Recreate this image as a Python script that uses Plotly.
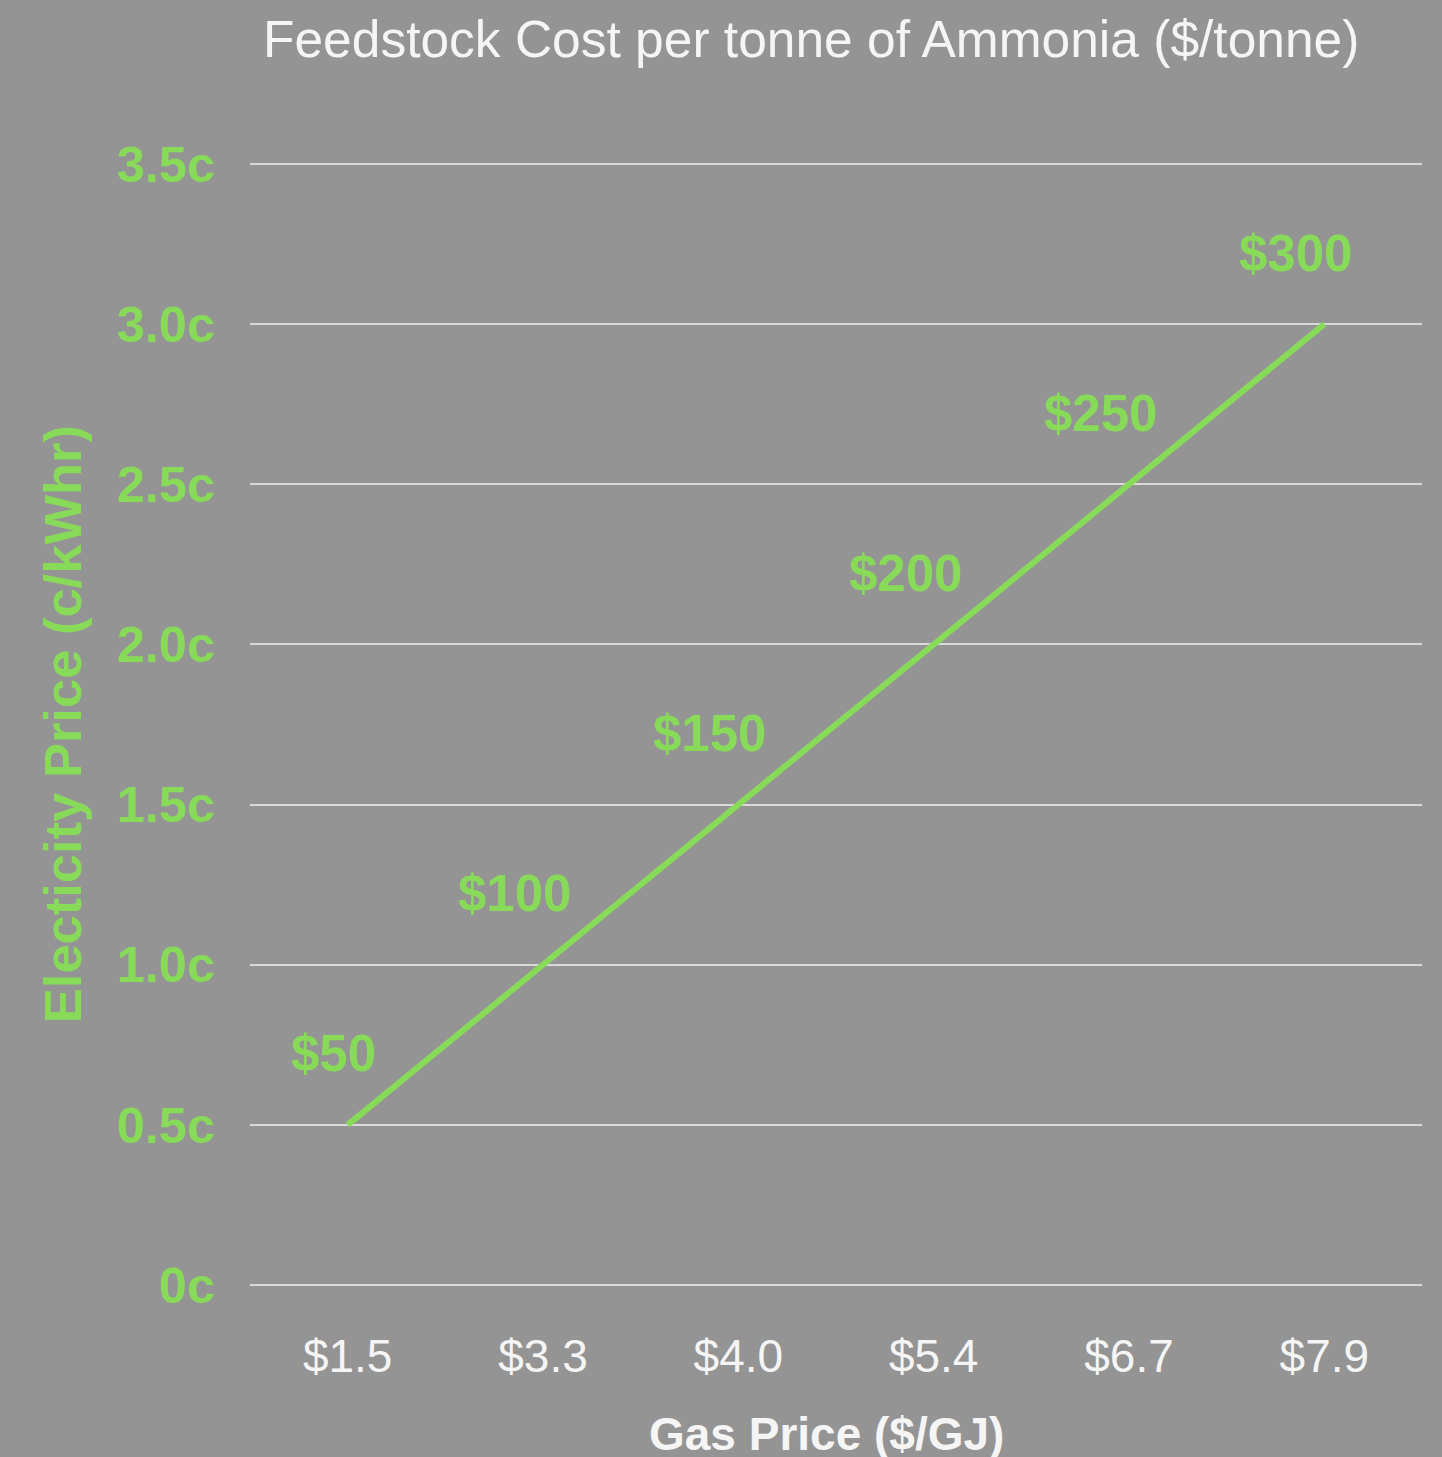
import plotly.graph_objects as go

gas_prices = ["$1.5", "$3.3", "$4.0", "$5.4", "$6.7", "$7.9"]
electricity_price = [0.5, 1.0, 1.5, 2.0, 2.5, 3.0]
cost_labels = ["$50", "$100", "$150", "$200", "$250", "$300"]
y_tick_vals = [0, 0.5, 1.0, 1.5, 2.0, 2.5, 3.0, 3.5]
y_tick_text = ["0c", "0.5c", "1.0c", "1.5c", "2.0c", "2.5c", "3.0c", "3.5c"]

BG = "#949494"
GREEN = "#88DB58"
GRID = "#D9D9D9"
FONT = "Liberation Sans, Arial, sans-serif"

fig = go.Figure()
fig.add_trace(go.Scatter(
    x=gas_prices, y=electricity_price, mode="lines",
    line=dict(color=GREEN, width=6), hoverinfo="skip", showlegend=False,
))

for x, y, t in zip(gas_prices, electricity_price, cost_labels):
    fig.add_annotation(
        x=x, y=y, text=t, showarrow=False, xanchor="right", yanchor="middle",
        xshift=30, yshift=71,
        font=dict(family=FONT, size=51, color=GREEN, weight="bold"),
    )

fig.add_annotation(
    xref="paper", yref="paper", x=0.4787, y=1.1095, text="Feedstock Cost per tonne of Ammonia ($/tonne)",
    showarrow=False, xanchor="center", yanchor="middle",
    font=dict(family=FONT, size=51.5, color="#F5F5F5"),
)
fig.add_annotation(
    xref="paper", yref="paper", x=0.492, y=-0.1305, text="Gas Price ($/GJ)",
    showarrow=False, xanchor="center", yanchor="middle",
    font=dict(family=FONT, size=46, color="#F5F5F5", weight="bold"),
)
fig.add_annotation(
    xref="paper", yref="paper", x=-0.1598, y=0.5, text="Electicity Price (c/kWhr)",
    showarrow=False, xanchor="center", yanchor="middle", textangle=-90,
    font=dict(family=FONT, size=52.5, color=GREEN, weight="bold"),
)

fig.update_layout(
    width=1442, height=1457,
    margin=dict(l=250, r=20, t=162, b=170),
    paper_bgcolor=BG, plot_bgcolor=BG,
    xaxis=dict(
        type="category", range=[-0.5, 5.5], showgrid=False, zeroline=False,
        showline=False, ticks="", ticklabelstandoff=38,
        tickfont=dict(family=FONT, size=46, color="#F5F5F5"),
    ),
    yaxis=dict(
        range=[-0.006, 3.506], tickvals=y_tick_vals, ticktext=y_tick_text,
        showgrid=True, gridcolor=GRID, gridwidth=2, zeroline=False,
        showline=False, ticks="", ticklabelstandoff=34,
        tickfont=dict(family=FONT, size=50.5, color=GREEN, weight="bold"),
    ),
)

fig.write_html(
    "out.html",
    config={"displayModeBar": False},
    post_script="document.body.style.margin='0';document.body.style.overflow='hidden';",
)
